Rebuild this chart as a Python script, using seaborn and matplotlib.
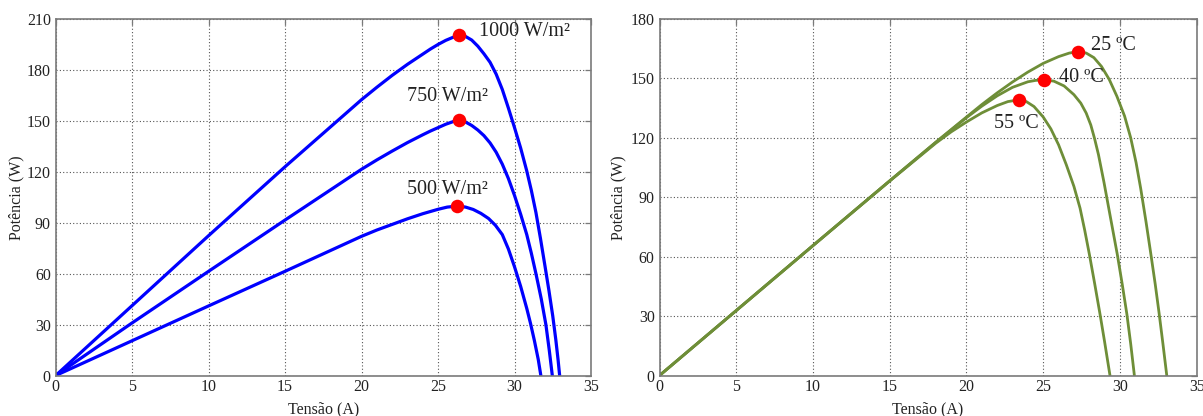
import matplotlib
matplotlib.use("Agg")
import matplotlib.pyplot as plt
import seaborn as sns
import pandas as pd

# ---------------- data ----------------
# Left panel: irradiance curves
V_1000 = [0, 5, 10, 15, 20, 21, 22, 23, 24, 24.5, 25, 25.5, 26, 26.4, 26.8, 27.2, 27.6, 28.0,
          28.4, 28.8, 29.2, 29.6, 30.0, 30.4, 30.8, 31.1, 31.4, 31.7, 32.0, 32.25, 32.5, 32.7,
          32.85, 32.95]
P_1000 = [0, 41.2, 82.4, 123, 162.5, 169.8, 176.8, 183.3, 189.3, 192.3, 195, 197.4, 199.3,
          200.4, 199.7, 197.6, 194, 189.5, 184.5, 177.5, 168.5, 157.5, 146, 134, 120.5, 109,
          96, 80.5, 64, 50, 35, 21, 9, 0]

V_750 = [0, 5, 10, 15, 20, 21, 22, 23, 24, 24.5, 25, 25.5, 26, 26.35, 26.8, 27.2, 27.6, 28.0,
         28.4, 28.8, 29.2, 29.6, 30.0, 30.4, 30.8, 31.1, 31.4, 31.75, 32.05, 32.27, 32.47]
P_750 = [0, 31, 61.4, 91.6, 121.5, 127, 132.2, 137.2, 141.8, 144, 146, 148, 149.6, 150.3,
         149.3, 147.3, 144.6, 141.3, 137, 131.5, 124.5, 116, 106, 95, 83, 72, 60, 45, 30, 15, 0]

V_500 = [0, 5, 10, 15, 20, 21, 22, 23, 24, 24.5, 25, 25.6, 26.25, 26.8, 27.3, 27.8, 28.3,
         28.75, 29.2, 29.6, 30.0, 30.4, 30.8, 31.05, 31.3, 31.55, 31.72]
P_500 = [0, 20.5, 41, 61.4, 82, 85.7, 89, 92.3, 95.3, 96.6, 97.9, 99.2, 99.8, 99.2, 97.8,
         95.5, 92.5, 88.5, 83, 74.5, 64, 52.5, 39.5, 30.5, 20.5, 9.5, 0]

irr_labels = ["1000 W/m²", "750 W/m²", "500 W/m²"]
irr_peak_V = [26.4, 26.35, 26.25]
irr_peak_P = [200.4, 150.3, 99.8]
irr_text_V = [27.7, 23.0, 23.0]
irr_text_P = [202.5, 164.6, 109.8]

# Right panel: temperature curves
V_25 = [0, 5, 10, 15, 18, 20, 21, 22, 23, 24, 25, 26, 26.7, 27.25, 27.8, 28.3, 28.8, 29.3,
        29.8, 30.3, 30.7, 31.05, 31.35, 31.7, 32.0, 32.3, 32.55, 32.8, 33.05]
P_25 = [0, 32.8, 65.6, 98.3, 117.8, 130.5, 136.8, 142.7, 148.2, 153.2, 157.6, 161, 162.8,
        163.5, 162.8, 160.5, 156, 149.5, 141, 131, 120, 107.5, 94.5, 77.5, 62, 46, 31.5, 16, 0]

V_40 = [0, 5, 10, 15, 18, 20, 21, 22, 23, 24, 24.5, 25.05, 25.7, 26.36, 27.0, 27.45, 27.8,
        28.1, 28.35, 28.6, 28.96, 29.4, 29.83, 30.15, 30.45, 30.7, 30.94]
P_40 = [0, 32.8, 65.6, 98.3, 117.7, 130.2, 136, 141.2, 145.5, 148.3, 149, 149.3, 148.6,
        146.2, 141.8, 137.5, 132.5, 126.5, 119.5, 111.5, 97.5, 79, 61, 46, 31, 16, 0]

V_55 = [0, 5, 10, 15, 18, 19, 20, 21, 22, 22.7, 23.42, 23.9, 24.4, 25.0, 25.5, 26.0, 26.5,
        27.0, 27.4, 27.7, 28.0, 28.35, 28.7, 29.0, 29.35]
P_55 = [0, 32.8, 65.6, 98.2, 117.3, 123, 128, 132.6, 136.3, 138.3, 139.2, 138.3, 135.8,
        130.5, 124.5, 116.5, 106.5, 95.5, 84.5, 73.5, 61.5, 46.5, 31, 17, 0]

temp_labels = ["25 ºC", "40 ºC", "55 ºC"]
temp_peak_V = [27.25, 25.05, 23.42]
temp_peak_P = [163.5, 149.3, 139.2]
temp_text_V = [28.1, 26.0, 21.8]
temp_text_P = [166.4, 150.6, 127.4]

x_ticks = [0, 5, 10, 15, 20, 25, 30, 35]
y_ticks_left = [0, 30, 60, 90, 120, 150, 180, 210]
y_ticks_right = [0, 30, 60, 90, 120, 150, 180]
x_label = "Tensão (A)"
y_label = "Potência (W)"

# ---------------- tables ----------------
def curves_df(vs, ps, names):
    rows = []
    for v, p, n in zip(vs, ps, names):
        for a, b in zip(v, p):
            rows.append({"V": a, "P": b, "curve": n})
    return pd.DataFrame(rows)

df_irr = curves_df([V_1000, V_750, V_500], [P_1000, P_750, P_500], irr_labels)
df_tmp = curves_df([V_25, V_40, V_55], [P_25, P_40, P_55], temp_labels)
pk_irr = pd.DataFrame({"V": irr_peak_V, "P": irr_peak_P})
pk_tmp = pd.DataFrame({"V": temp_peak_V, "P": temp_peak_P})

# ---------------- style ----------------
sns.set_style("white")
plt.rcParams["font.family"] = ["Liberation Serif", "DejaVu Serif"]

BLUE = "#0000ff"
GREEN = "#6e8e38"
RED = "#ff0000"
SPINE = "#7a7a7a"

fig = plt.figure(figsize=(12.03, 4.16), dpi=100)
W, H = 1203.0, 416.0
top_px, bot_px = 19.0, 375.5
axL = fig.add_axes([55.7 / W, 1 - bot_px / H, (591.0 - 55.7) / W, (bot_px - top_px) / H])
axR = fig.add_axes([659.5 / W, 1 - bot_px / H, (1196.7 - 659.5) / W, (bot_px - top_px) / H])


def style_axes(ax, yticks):
    ax.set_xlim(0, 35)
    ax.set_ylim(yticks[0], yticks[-1])
    ax.set_xticks(x_ticks)
    ax.set_yticks(yticks)
    ax.set_axisbelow(True)
    ax.grid(True, linestyle=(0, (1, 2)), linewidth=0.8, color="#555555")
    for s in ax.spines.values():
        s.set_visible(True)
        s.set_color(SPINE)
        s.set_linewidth(1.2)
    ax.tick_params(axis="both", direction="in", top=True, right=True, length=4,
                   width=0.9, color=SPINE, labelsize=11.5, labelcolor="#222222")
    ax.tick_params(axis="x", pad=2.5)
    ax.tick_params(axis="y", pad=3.5)
    ax.set_xlabel(x_label, fontsize=11.5, color="#222222")
    ax.set_ylabel(y_label, fontsize=11.5, color="#222222")


# Left panel
sns.lineplot(data=df_irr, x="V", y="P", hue="curve", palette=[BLUE] * 3, sort=False,
             estimator=None, linewidth=2.3, legend=False, ax=axL)
sns.scatterplot(data=pk_irr, x="V", y="P", color=RED, s=95, linewidth=0, zorder=5,
                legend=False, ax=axL)
for t, xv, yv in zip(irr_labels, irr_text_V, irr_text_P):
    axL.text(xv, yv, t, fontsize=14.5, color="#222222", va="center", ha="left", zorder=6)
style_axes(axL, y_ticks_left)

# Right panel
sns.lineplot(data=df_tmp, x="V", y="P", hue="curve", palette=[GREEN] * 3, sort=False,
             estimator=None, linewidth=2.0, legend=False, ax=axR)
sns.scatterplot(data=pk_tmp, x="V", y="P", color=RED, s=95, linewidth=0, zorder=5,
                legend=False, ax=axR)
for t, xv, yv in zip(temp_labels, temp_text_V, temp_text_P):
    axR.text(xv, yv, t, fontsize=14.5, color="#222222", va="center", ha="left", zorder=6)
style_axes(axR, y_ticks_right)

axL.yaxis.set_label_coords(-0.059, 0.5)
axR.yaxis.set_label_coords(-0.062, 0.5)
for ax in (axL, axR):
    ax.xaxis.set_label_coords(0.5, -0.072)

fig.savefig("out.png", dpi=100)
